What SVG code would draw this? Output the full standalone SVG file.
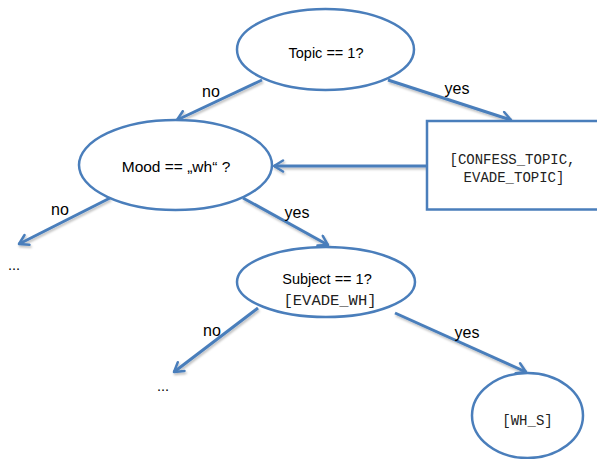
<svg xmlns="http://www.w3.org/2000/svg" width="597" height="459" viewBox="0 0 597 459">
  <style>
    .shape { fill: #ffffff; stroke: #4a7ebb; stroke-width: 2.5; }
    .conn { stroke: #4a7ebb; stroke-width: 3; fill: none; marker-end: url(#arrow); }
    .lbl { font-family: "Liberation Sans", Arial, sans-serif; font-size: 16px; fill: #000; text-anchor: middle; }
    .txt { font-family: "Liberation Sans", Arial, sans-serif; font-size: 14.5px; fill: #000; text-anchor: middle; }
    .mono { font-family: "Liberation Mono", "Courier New", monospace; font-size: 14px; fill: #222; text-anchor: middle; }
  </style>
  <defs>
    <marker id="arrow" markerUnits="userSpaceOnUse" viewBox="0 0 14 14" refX="11" refY="7" markerWidth="14" markerHeight="14" orient="auto">
      <path d="M2,1.5 L11,7 L2,12.5" fill="none" stroke="#4a7ebb" stroke-width="2.5" stroke-linecap="round" stroke-linejoin="round"/>
    </marker>
    <filter id="shadow" filterUnits="userSpaceOnUse" x="0" y="0" width="597" height="459">
      <feDropShadow dx="1" dy="2" stdDeviation="1" flood-color="#000" flood-opacity="0.25"/>
    </filter>
  </defs>
  <rect width="597" height="459" fill="#ffffff"/>

  <g id="connectors">
    <g filter="url(#shadow)">
      <line class="conn" x1="262" y1="80" x2="177" y2="120"/>
      <line class="conn" x1="388" y1="80" x2="511" y2="120"/>
      <line class="conn" x1="427" y1="166" x2="274" y2="166"/>
      <line class="conn" x1="110" y1="198" x2="19" y2="244"/>
      <line class="conn" x1="243" y1="198" x2="328" y2="245"/>
      <line class="conn" x1="258" y1="308" x2="174" y2="372"/>
      <line class="conn" x1="395" y1="313" x2="526" y2="372"/>
    </g>
    <text class="lbl" x="211" y="97">no</text>
    <text class="lbl" x="457" y="94">yes</text>
    <text class="lbl" x="60" y="215">no</text>
    <text class="lbl" x="297" y="218">yes</text>
    <text class="lbl" x="212" y="336">no</text>
    <text class="lbl" x="467" y="338">yes</text>
    <text class="txt" x="14" y="270">...</text>
    <text class="txt" x="163" y="391">...</text>
  </g>

  <g id="topic">
    <ellipse class="shape" cx="325.5" cy="49.5" rx="88.5" ry="40.5"/>
    <text class="txt" x="326" y="58">Topic == 1?</text>
  </g>

  <g id="mood">
    <ellipse class="shape" cx="175.5" cy="165" rx="96.5" ry="45"/>
    <text class="txt" x="176" y="172" style="font-size:15.5px">Mood == „wh“ ?</text>
  </g>

  <g id="confess">
    <rect class="shape" x="427" y="121" width="172" height="88.5"/>
    <text class="mono" x="512.5" y="164">[CONFESS_TOPIC,</text>
    <text class="mono" x="514" y="182">EVADE_TOPIC]</text>
  </g>

  <g id="subject">
    <ellipse class="shape" cx="326" cy="282" rx="89" ry="35"/>
    <text class="txt" x="327" y="284">Subject == 1?</text>
    <text class="mono" x="330" y="305" style="font-size:15.5px">[EVADE_WH]</text>
  </g>

  <g id="whs">
    <ellipse class="shape" cx="527.5" cy="415.5" rx="55.5" ry="42.5"/>
    <text class="mono" x="527.5" y="425">[WH_S]</text>
  </g>
</svg>
